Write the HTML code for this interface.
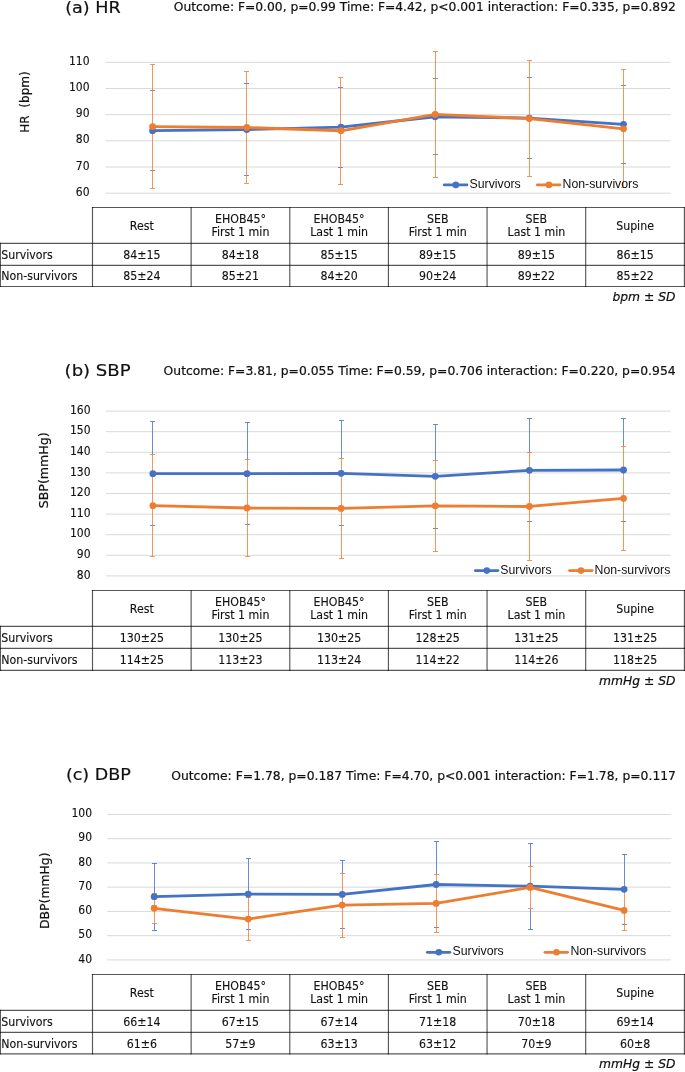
<!DOCTYPE html>
<html lang="en"><head><meta charset="utf-8"><title>Figure</title>
<style>html,body{margin:0;padding:0;background:#fff}svg{display:block}text{fill:#111}.t,.w{stroke:#111;stroke-width:.2px;stroke-linejoin:round}.t{font-family:"DejaVu Sans","Liberation Sans",sans-serif}.l{font-family:"Liberation Sans",sans-serif}.w{font-family:"DejaVu Sans","Liberation Sans",sans-serif}.k,.k2{font-family:"DejaVu Sans Condensed","DejaVu Sans","Liberation Sans",sans-serif;font-stretch:condensed;stroke:#111;stroke-width:.12px}</style></head><body>
<svg width="685" height="1072" viewBox="0 0 685 1072">
<rect width="685" height="1072" fill="#fff"/>
<g>
<text class="w" x="65.2" y="13" font-size="16.5" textLength="55.6" lengthAdjust="spacingAndGlyphs">(a) HR</text>
<text class="w" x="173.8" y="11.3" font-size="12.0" textLength="502" lengthAdjust="spacingAndGlyphs">Outcome: F=0.00, p=0.99 Time: F=4.42, p&lt;0.001 interaction: F=0.335, p=0.892</text>
<line x1="105.5" x2="670.6" y1="193.2" y2="193.2" stroke="#D9D9D9" stroke-width="1"/>
<text class="k" x="89.5" y="195.8" font-size="12.0" text-anchor="end">60</text>
<line x1="105.5" x2="670.6" y1="167.02" y2="167.02" stroke="#D9D9D9" stroke-width="1"/>
<text class="k" x="89.5" y="169.62" font-size="12.0" text-anchor="end">70</text>
<line x1="105.5" x2="670.6" y1="140.84" y2="140.84" stroke="#D9D9D9" stroke-width="1"/>
<text class="k" x="89.5" y="143.44" font-size="12.0" text-anchor="end">80</text>
<line x1="105.5" x2="670.6" y1="114.66" y2="114.66" stroke="#D9D9D9" stroke-width="1"/>
<text class="k" x="89.5" y="117.26" font-size="12.0" text-anchor="end">90</text>
<line x1="105.5" x2="670.6" y1="88.48" y2="88.48" stroke="#D9D9D9" stroke-width="1"/>
<text class="k" x="89.5" y="91.08" font-size="12.0" text-anchor="end">100</text>
<line x1="105.5" x2="670.6" y1="62.3" y2="62.3" stroke="#D9D9D9" stroke-width="1"/>
<text class="k" x="89.5" y="64.9" font-size="12.0" text-anchor="end">110</text>
<text class="w" font-size="12.0" text-anchor="middle" textLength="61.5" lengthAdjust="spacingAndGlyphs" transform="translate(28.7 102) rotate(-90)">HR  (bpm)</text>
<path d="M150 90.5h5M150 170.5h5M244 83.5h5M244 175.5h5M338 87.5h5M338 167.5h5M433 78.5h5M433 154.5h5M527 77.5h5M527 158.5h5M621 85.5h5M621 163.5h5" fill="none" stroke="#4472C4" stroke-opacity="0.8" stroke-width="1.0"/>
<path d="M152.5 64.5V188.5M150 64.5h5M150 188.5h5M246.5 71.5V183.5M244 71.5h5M244 183.5h5M340.5 77.5V184.5M338 77.5h5M338 184.5h5M435.5 51.5V177.5M433 51.5h5M433 177.5h5M529.5 60.5V176.5M527 60.5h5M527 176.5h5M623.5 69.5V187.5M621 69.5h5M621 187.5h5" fill="none" stroke="#ED7D31" stroke-opacity="0.8" stroke-width="1.0"/>
<polyline points="152.59,130.63 246.78,129.58 340.96,127.1 435.14,116.75 529.33,118.06 623.51,124.35" fill="none" stroke="#4472C4" stroke-width="2.8" stroke-linejoin="round" stroke-linecap="round"/>
<circle cx="152.59" cy="130.63" r="3.4" fill="#4472C4"/>
<circle cx="246.78" cy="129.58" r="3.4" fill="#4472C4"/>
<circle cx="340.96" cy="127.1" r="3.4" fill="#4472C4"/>
<circle cx="435.14" cy="116.75" r="3.4" fill="#4472C4"/>
<circle cx="529.33" cy="118.06" r="3.4" fill="#4472C4"/>
<circle cx="623.51" cy="124.35" r="3.4" fill="#4472C4"/>
<polyline points="152.59,126.57 246.78,127.49 340.96,130.76 435.14,114.4 529.33,118.59 623.51,128.8" fill="none" stroke="#ED7D31" stroke-width="2.8" stroke-linejoin="round" stroke-linecap="round"/>
<circle cx="152.59" cy="126.57" r="3.4" fill="#ED7D31"/>
<circle cx="246.78" cy="127.49" r="3.4" fill="#ED7D31"/>
<circle cx="340.96" cy="130.76" r="3.4" fill="#ED7D31"/>
<circle cx="435.14" cy="114.4" r="3.4" fill="#ED7D31"/>
<circle cx="529.33" cy="118.59" r="3.4" fill="#ED7D31"/>
<circle cx="623.51" cy="128.8" r="3.4" fill="#ED7D31"/>
<path d="M444.3 184.9H466.9" stroke="#4472C4" stroke-width="2.8" stroke-linecap="round"/><circle cx="455.8" cy="184.9" r="3.3" fill="#4472C4"/>
<text class="l" x="469.5" y="187.9" font-size="12.3">Survivors</text>
<path d="M537.4 184.9H560" stroke="#ED7D31" stroke-width="2.8" stroke-linecap="round"/><circle cx="548.9" cy="184.9" r="3.3" fill="#ED7D31"/>
<text class="l" x="562.5" y="187.9" font-size="12.3">Non-survivors</text>
<path d="M91.92 207.5H686M0 243.4H686M0 265.3H686M0 286.5H686" fill="none" stroke="#000" stroke-opacity="0.66" stroke-width="1.15"/>
<path d="M92.5 206.93V287.07M191.14 206.93V287.07M289.78 206.93V287.07M388.42 206.93V287.07M487.06 206.93V287.07M585.7 206.93V287.07M684.4 206.93V287.07M0.4 242.83V287.07" fill="none" stroke="#000" stroke-opacity="0.66" stroke-width="1.15"/>
<text class="k2" transform="translate(141.82 229.85) scale(1.04 1)" font-size="11.8" text-anchor="middle">Rest</text>
<text class="k2" transform="translate(240.46 222.55) scale(1.04 1)" font-size="11.8" text-anchor="middle">EHOB45°</text>
<text class="k2" transform="translate(240.46 236.35) scale(1.04 1)" font-size="11.8" text-anchor="middle">First 1 min</text>
<text class="k2" transform="translate(339.1 222.55) scale(1.04 1)" font-size="11.8" text-anchor="middle">EHOB45°</text>
<text class="k2" transform="translate(339.1 236.35) scale(1.04 1)" font-size="11.8" text-anchor="middle">Last 1 min</text>
<text class="k2" transform="translate(437.74 222.55) scale(1.04 1)" font-size="11.8" text-anchor="middle">SEB</text>
<text class="k2" transform="translate(437.74 236.35) scale(1.04 1)" font-size="11.8" text-anchor="middle">First 1 min</text>
<text class="k2" transform="translate(536.38 222.55) scale(1.04 1)" font-size="11.8" text-anchor="middle">SEB</text>
<text class="k2" transform="translate(536.38 236.35) scale(1.04 1)" font-size="11.8" text-anchor="middle">Last 1 min</text>
<text class="k2" transform="translate(635.05 229.85) scale(1.04 1)" font-size="11.8" text-anchor="middle">Supine</text>
<text class="k2" transform="translate(1.2 258.85) scale(1.04 1)" font-size="11.8">Survivors</text>
<text class="k2" transform="translate(141.82 258.85) scale(1.04 1)" font-size="11.8" text-anchor="middle">84±15</text>
<text class="k2" transform="translate(240.46 258.85) scale(1.04 1)" font-size="11.8" text-anchor="middle">84±18</text>
<text class="k2" transform="translate(339.1 258.85) scale(1.04 1)" font-size="11.8" text-anchor="middle">85±15</text>
<text class="k2" transform="translate(437.74 258.85) scale(1.04 1)" font-size="11.8" text-anchor="middle">89±15</text>
<text class="k2" transform="translate(536.38 258.85) scale(1.04 1)" font-size="11.8" text-anchor="middle">89±15</text>
<text class="k2" transform="translate(635.05 258.85) scale(1.04 1)" font-size="11.8" text-anchor="middle">86±15</text>
<text class="k2" transform="translate(1.2 280.4) scale(1.04 1)" font-size="11.8">Non-survivors</text>
<text class="k2" transform="translate(141.82 280.4) scale(1.04 1)" font-size="11.8" text-anchor="middle">85±24</text>
<text class="k2" transform="translate(240.46 280.4) scale(1.04 1)" font-size="11.8" text-anchor="middle">85±21</text>
<text class="k2" transform="translate(339.1 280.4) scale(1.04 1)" font-size="11.8" text-anchor="middle">84±20</text>
<text class="k2" transform="translate(437.74 280.4) scale(1.04 1)" font-size="11.8" text-anchor="middle">90±24</text>
<text class="k2" transform="translate(536.38 280.4) scale(1.04 1)" font-size="11.8" text-anchor="middle">89±22</text>
<text class="k2" transform="translate(635.05 280.4) scale(1.04 1)" font-size="11.8" text-anchor="middle">85±22</text>
<text class="t" x="675.5" y="301" font-size="12.3" font-style="italic" text-anchor="end">bpm ± SD</text>
</g>
<g>
<text class="w" x="64.6" y="375.8" font-size="16.5" textLength="66" lengthAdjust="spacingAndGlyphs">(b) SBP</text>
<text class="w" x="163.6" y="375.3" font-size="12.0" textLength="512" lengthAdjust="spacingAndGlyphs">Outcome: F=3.81, p=0.055 Time: F=0.59, p=0.706 interaction: F=0.220, p=0.954</text>
<line x1="105.8" x2="670.6" y1="575.9" y2="575.9" stroke="#D9D9D9" stroke-width="1"/>
<text class="k" x="90.5" y="578.5" font-size="12.0" text-anchor="end">80</text>
<line x1="105.8" x2="670.6" y1="555.3" y2="555.3" stroke="#D9D9D9" stroke-width="1"/>
<text class="k" x="90.5" y="557.9" font-size="12.0" text-anchor="end">90</text>
<line x1="105.8" x2="670.6" y1="534.7" y2="534.7" stroke="#D9D9D9" stroke-width="1"/>
<text class="k" x="90.5" y="537.3" font-size="12.0" text-anchor="end">100</text>
<line x1="105.8" x2="670.6" y1="514.1" y2="514.1" stroke="#D9D9D9" stroke-width="1"/>
<text class="k" x="90.5" y="516.7" font-size="12.0" text-anchor="end">110</text>
<line x1="105.8" x2="670.6" y1="493.5" y2="493.5" stroke="#D9D9D9" stroke-width="1"/>
<text class="k" x="90.5" y="496.1" font-size="12.0" text-anchor="end">120</text>
<line x1="105.8" x2="670.6" y1="472.9" y2="472.9" stroke="#D9D9D9" stroke-width="1"/>
<text class="k" x="90.5" y="475.5" font-size="12.0" text-anchor="end">130</text>
<line x1="105.8" x2="670.6" y1="452.3" y2="452.3" stroke="#D9D9D9" stroke-width="1"/>
<text class="k" x="90.5" y="454.9" font-size="12.0" text-anchor="end">140</text>
<line x1="105.8" x2="670.6" y1="431.7" y2="431.7" stroke="#D9D9D9" stroke-width="1"/>
<text class="k" x="90.5" y="434.3" font-size="12.0" text-anchor="end">150</text>
<line x1="105.8" x2="670.6" y1="411.1" y2="411.1" stroke="#D9D9D9" stroke-width="1"/>
<text class="k" x="90.5" y="413.7" font-size="12.0" text-anchor="end">160</text>
<text class="w" font-size="12.0" text-anchor="middle" textLength="76" lengthAdjust="spacingAndGlyphs" transform="translate(48.2 470.3) rotate(-90)">SBP(mmHg)</text>
<path d="M152.5 421.5V454.5M150 421.5h5M150 525.5h5M247.5 422.5V459.5M245 422.5h5M245 524.5h5M341.5 420.5V458.5M339 420.5h5M339 525.5h5M435.5 424.5V460.5M433 424.5h5M433 528.5h5M529.5 418.5V452.5M527 418.5h5M527 521.5h5M623.5 418.5V446.5M621 418.5h5M621 521.5h5" fill="none" stroke="#4472C4" stroke-opacity="0.8" stroke-width="1.0"/>
<path d="M152.5 454.5V556.5M150 454.5h5M150 556.5h5M247.5 459.5V556.5M245 459.5h5M245 556.5h5M341.5 458.5V558.5M339 458.5h5M339 558.5h5M435.5 460.5V551.5M433 460.5h5M433 551.5h5M529.5 452.5V560.5M527 452.5h5M527 560.5h5M623.5 446.5V550.5M621 446.5h5M621 550.5h5" fill="none" stroke="#ED7D31" stroke-opacity="0.8" stroke-width="1.0"/>
<polyline points="152.87,473.72 247,473.72 341.13,473.31 435.27,476.3 529.4,470.32 623.53,470.02" fill="none" stroke="#4472C4" stroke-width="2.8" stroke-linejoin="round" stroke-linecap="round"/>
<circle cx="152.87" cy="473.72" r="3.4" fill="#4472C4"/>
<circle cx="247" cy="473.72" r="3.4" fill="#4472C4"/>
<circle cx="341.13" cy="473.31" r="3.4" fill="#4472C4"/>
<circle cx="435.27" cy="476.3" r="3.4" fill="#4472C4"/>
<circle cx="529.4" cy="470.32" r="3.4" fill="#4472C4"/>
<circle cx="623.53" cy="470.02" r="3.4" fill="#4472C4"/>
<polyline points="152.87,505.65 247,508.02 341.13,508.44 435.27,505.86 529.4,506.48 623.53,498.44" fill="none" stroke="#ED7D31" stroke-width="2.8" stroke-linejoin="round" stroke-linecap="round"/>
<circle cx="152.87" cy="505.65" r="3.4" fill="#ED7D31"/>
<circle cx="247" cy="508.02" r="3.4" fill="#ED7D31"/>
<circle cx="341.13" cy="508.44" r="3.4" fill="#ED7D31"/>
<circle cx="435.27" cy="505.86" r="3.4" fill="#ED7D31"/>
<circle cx="529.4" cy="506.48" r="3.4" fill="#ED7D31"/>
<circle cx="623.53" cy="498.44" r="3.4" fill="#ED7D31"/>
<path d="M475.3 570.6H497.9" stroke="#4472C4" stroke-width="2.8" stroke-linecap="round"/><circle cx="486.8" cy="570.6" r="3.3" fill="#4472C4"/>
<text class="l" x="500.3" y="573.8" font-size="12.3">Survivors</text>
<path d="M569.5 570.6H592.1" stroke="#ED7D31" stroke-width="2.8" stroke-linecap="round"/><circle cx="581" cy="570.6" r="3.3" fill="#ED7D31"/>
<text class="l" x="594.5" y="573.8" font-size="12.3">Non-survivors</text>
<path d="M91.92 590.45H686M0 626.4H686M0 648.4H686M0 670.3H686" fill="none" stroke="#000" stroke-opacity="0.66" stroke-width="1.15"/>
<path d="M92.5 589.88V670.88M191.14 589.88V670.88M289.78 589.88V670.88M388.42 589.88V670.88M487.06 589.88V670.88M585.7 589.88V670.88M684.4 589.88V670.88M0.4 625.82V670.88" fill="none" stroke="#000" stroke-opacity="0.66" stroke-width="1.15"/>
<text class="k2" transform="translate(141.82 612.82) scale(1.04 1)" font-size="11.8" text-anchor="middle">Rest</text>
<text class="k2" transform="translate(240.46 605.52) scale(1.04 1)" font-size="11.8" text-anchor="middle">EHOB45°</text>
<text class="k2" transform="translate(240.46 619.32) scale(1.04 1)" font-size="11.8" text-anchor="middle">First 1 min</text>
<text class="k2" transform="translate(339.1 605.52) scale(1.04 1)" font-size="11.8" text-anchor="middle">EHOB45°</text>
<text class="k2" transform="translate(339.1 619.32) scale(1.04 1)" font-size="11.8" text-anchor="middle">Last 1 min</text>
<text class="k2" transform="translate(437.74 605.52) scale(1.04 1)" font-size="11.8" text-anchor="middle">SEB</text>
<text class="k2" transform="translate(437.74 619.32) scale(1.04 1)" font-size="11.8" text-anchor="middle">First 1 min</text>
<text class="k2" transform="translate(536.38 605.52) scale(1.04 1)" font-size="11.8" text-anchor="middle">SEB</text>
<text class="k2" transform="translate(536.38 619.32) scale(1.04 1)" font-size="11.8" text-anchor="middle">Last 1 min</text>
<text class="k2" transform="translate(635.05 612.82) scale(1.04 1)" font-size="11.8" text-anchor="middle">Supine</text>
<text class="k2" transform="translate(1.2 641.9) scale(1.04 1)" font-size="11.8">Survivors</text>
<text class="k2" transform="translate(141.82 641.9) scale(1.04 1)" font-size="11.8" text-anchor="middle">130±25</text>
<text class="k2" transform="translate(240.46 641.9) scale(1.04 1)" font-size="11.8" text-anchor="middle">130±25</text>
<text class="k2" transform="translate(339.1 641.9) scale(1.04 1)" font-size="11.8" text-anchor="middle">130±25</text>
<text class="k2" transform="translate(437.74 641.9) scale(1.04 1)" font-size="11.8" text-anchor="middle">128±25</text>
<text class="k2" transform="translate(536.38 641.9) scale(1.04 1)" font-size="11.8" text-anchor="middle">131±25</text>
<text class="k2" transform="translate(635.05 641.9) scale(1.04 1)" font-size="11.8" text-anchor="middle">131±25</text>
<text class="k2" transform="translate(1.2 663.85) scale(1.04 1)" font-size="11.8">Non-survivors</text>
<text class="k2" transform="translate(141.82 663.85) scale(1.04 1)" font-size="11.8" text-anchor="middle">114±25</text>
<text class="k2" transform="translate(240.46 663.85) scale(1.04 1)" font-size="11.8" text-anchor="middle">113±23</text>
<text class="k2" transform="translate(339.1 663.85) scale(1.04 1)" font-size="11.8" text-anchor="middle">113±24</text>
<text class="k2" transform="translate(437.74 663.85) scale(1.04 1)" font-size="11.8" text-anchor="middle">114±22</text>
<text class="k2" transform="translate(536.38 663.85) scale(1.04 1)" font-size="11.8" text-anchor="middle">114±26</text>
<text class="k2" transform="translate(635.05 663.85) scale(1.04 1)" font-size="11.8" text-anchor="middle">118±25</text>
<text class="t" x="675.5" y="684.7" font-size="12.3" font-style="italic" text-anchor="end">mmHg ± SD</text>
</g>
<g>
<text class="w" x="65.9" y="780" font-size="16.5" textLength="65" lengthAdjust="spacingAndGlyphs">(c) DBP</text>
<text class="w" x="171.2" y="779.6" font-size="12.0" textLength="504.8" lengthAdjust="spacingAndGlyphs">Outcome: F=1.78, p=0.187 Time: F=4.70, p&lt;0.001 interaction: F=1.78, p=0.117</text>
<line x1="107.2" x2="671.1" y1="959.9" y2="959.9" stroke="#D9D9D9" stroke-width="1"/>
<text class="k" x="92" y="962.5" font-size="12.0" text-anchor="end">40</text>
<line x1="107.2" x2="671.1" y1="935.66" y2="935.66" stroke="#D9D9D9" stroke-width="1"/>
<text class="k" x="92" y="938.26" font-size="12.0" text-anchor="end">50</text>
<line x1="107.2" x2="671.1" y1="911.42" y2="911.42" stroke="#D9D9D9" stroke-width="1"/>
<text class="k" x="92" y="914.02" font-size="12.0" text-anchor="end">60</text>
<line x1="107.2" x2="671.1" y1="887.17" y2="887.17" stroke="#D9D9D9" stroke-width="1"/>
<text class="k" x="92" y="889.77" font-size="12.0" text-anchor="end">70</text>
<line x1="107.2" x2="671.1" y1="862.93" y2="862.93" stroke="#D9D9D9" stroke-width="1"/>
<text class="k" x="92" y="865.53" font-size="12.0" text-anchor="end">80</text>
<line x1="107.2" x2="671.1" y1="838.69" y2="838.69" stroke="#D9D9D9" stroke-width="1"/>
<text class="k" x="92" y="841.29" font-size="12.0" text-anchor="end">90</text>
<line x1="107.2" x2="671.1" y1="814.45" y2="814.45" stroke="#D9D9D9" stroke-width="1"/>
<text class="k" x="92" y="817.05" font-size="12.0" text-anchor="end">100</text>
<text class="w" font-size="12.0" text-anchor="middle" textLength="76.5" lengthAdjust="spacingAndGlyphs" transform="translate(49.2 890.7) rotate(-90)">DBP(mmHg)</text>
<path d="M154.5 863.5V893.5M154.5 923.5V930.5M152 863.5h5M152 930.5h5M248.5 858.5V897.5M246 858.5h5M246 929.5h5M342.5 860.5V873.5M340 860.5h5M340 928.5h5M436.5 841.5V874.5M434 841.5h5M434 927.5h5M530.5 843.5V866.5M530.5 908.5V929.5M528 843.5h5M528 929.5h5M624.5 854.5V890.5M622 854.5h5M622 924.5h5" fill="none" stroke="#4472C4" stroke-opacity="0.8" stroke-width="1.0"/>
<path d="M154.5 893.5V923.5M152 893.5h5M152 923.5h5M248.5 897.5V940.5M246 897.5h5M246 940.5h5M342.5 873.5V937.5M340 873.5h5M340 937.5h5M436.5 874.5V932.5M434 874.5h5M434 932.5h5M530.5 866.5V908.5M528 866.5h5M528 908.5h5M624.5 890.5V930.5M622 890.5h5M622 930.5h5" fill="none" stroke="#ED7D31" stroke-opacity="0.8" stroke-width="1.0"/>
<polyline points="154.19,896.63 248.18,894.08 342.16,894.45 436.14,884.51 530.12,886.21 624.11,889.36" fill="none" stroke="#4472C4" stroke-width="2.8" stroke-linejoin="round" stroke-linecap="round"/>
<circle cx="154.19" cy="896.63" r="3.4" fill="#4472C4"/>
<circle cx="248.18" cy="894.08" r="3.4" fill="#4472C4"/>
<circle cx="342.16" cy="894.45" r="3.4" fill="#4472C4"/>
<circle cx="436.14" cy="884.51" r="3.4" fill="#4472C4"/>
<circle cx="530.12" cy="886.21" r="3.4" fill="#4472C4"/>
<circle cx="624.11" cy="889.36" r="3.4" fill="#4472C4"/>
<polyline points="154.19,908.27 248.18,919.05 342.16,905.11 436.14,903.42 530.12,887.42 624.11,910.45" fill="none" stroke="#ED7D31" stroke-width="2.8" stroke-linejoin="round" stroke-linecap="round"/>
<circle cx="154.19" cy="908.27" r="3.4" fill="#ED7D31"/>
<circle cx="248.18" cy="919.05" r="3.4" fill="#ED7D31"/>
<circle cx="342.16" cy="905.11" r="3.4" fill="#ED7D31"/>
<circle cx="436.14" cy="903.42" r="3.4" fill="#ED7D31"/>
<circle cx="530.12" cy="887.42" r="3.4" fill="#ED7D31"/>
<circle cx="624.11" cy="910.45" r="3.4" fill="#ED7D31"/>
<path d="M427.3 952.3H449.9" stroke="#4472C4" stroke-width="2.8" stroke-linecap="round"/><circle cx="438.8" cy="952.3" r="3.3" fill="#4472C4"/>
<text class="l" x="452.5" y="954.5" font-size="12.3">Survivors</text>
<path d="M545 952.3H567.6" stroke="#ED7D31" stroke-width="2.8" stroke-linecap="round"/><circle cx="556.5" cy="952.3" r="3.3" fill="#ED7D31"/>
<text class="l" x="570.4" y="954.5" font-size="12.3">Non-survivors</text>
<path d="M91.92 974.45H686M0 1010.4H686M0 1032.4H686M0 1053.9H686" fill="none" stroke="#000" stroke-opacity="0.66" stroke-width="1.15"/>
<path d="M92.5 973.88V1054.48M191.14 973.88V1054.48M289.78 973.88V1054.48M388.42 973.88V1054.48M487.06 973.88V1054.48M585.7 973.88V1054.48M684.4 973.88V1054.48M0.4 1009.82V1054.48" fill="none" stroke="#000" stroke-opacity="0.66" stroke-width="1.15"/>
<text class="k2" transform="translate(141.82 996.82) scale(1.04 1)" font-size="11.8" text-anchor="middle">Rest</text>
<text class="k2" transform="translate(240.46 989.52) scale(1.04 1)" font-size="11.8" text-anchor="middle">EHOB45°</text>
<text class="k2" transform="translate(240.46 1003.32) scale(1.04 1)" font-size="11.8" text-anchor="middle">First 1 min</text>
<text class="k2" transform="translate(339.1 989.52) scale(1.04 1)" font-size="11.8" text-anchor="middle">EHOB45°</text>
<text class="k2" transform="translate(339.1 1003.32) scale(1.04 1)" font-size="11.8" text-anchor="middle">Last 1 min</text>
<text class="k2" transform="translate(437.74 989.52) scale(1.04 1)" font-size="11.8" text-anchor="middle">SEB</text>
<text class="k2" transform="translate(437.74 1003.32) scale(1.04 1)" font-size="11.8" text-anchor="middle">First 1 min</text>
<text class="k2" transform="translate(536.38 989.52) scale(1.04 1)" font-size="11.8" text-anchor="middle">SEB</text>
<text class="k2" transform="translate(536.38 1003.32) scale(1.04 1)" font-size="11.8" text-anchor="middle">Last 1 min</text>
<text class="k2" transform="translate(635.05 996.82) scale(1.04 1)" font-size="11.8" text-anchor="middle">Supine</text>
<text class="k2" transform="translate(1.2 1025.9) scale(1.04 1)" font-size="11.8">Survivors</text>
<text class="k2" transform="translate(141.82 1025.9) scale(1.04 1)" font-size="11.8" text-anchor="middle">66±14</text>
<text class="k2" transform="translate(240.46 1025.9) scale(1.04 1)" font-size="11.8" text-anchor="middle">67±15</text>
<text class="k2" transform="translate(339.1 1025.9) scale(1.04 1)" font-size="11.8" text-anchor="middle">67±14</text>
<text class="k2" transform="translate(437.74 1025.9) scale(1.04 1)" font-size="11.8" text-anchor="middle">71±18</text>
<text class="k2" transform="translate(536.38 1025.9) scale(1.04 1)" font-size="11.8" text-anchor="middle">70±18</text>
<text class="k2" transform="translate(635.05 1025.9) scale(1.04 1)" font-size="11.8" text-anchor="middle">69±14</text>
<text class="k2" transform="translate(1.2 1047.65) scale(1.04 1)" font-size="11.8">Non-survivors</text>
<text class="k2" transform="translate(141.82 1047.65) scale(1.04 1)" font-size="11.8" text-anchor="middle">61±6</text>
<text class="k2" transform="translate(240.46 1047.65) scale(1.04 1)" font-size="11.8" text-anchor="middle">57±9</text>
<text class="k2" transform="translate(339.1 1047.65) scale(1.04 1)" font-size="11.8" text-anchor="middle">63±13</text>
<text class="k2" transform="translate(437.74 1047.65) scale(1.04 1)" font-size="11.8" text-anchor="middle">63±12</text>
<text class="k2" transform="translate(536.38 1047.65) scale(1.04 1)" font-size="11.8" text-anchor="middle">70±9</text>
<text class="k2" transform="translate(635.05 1047.65) scale(1.04 1)" font-size="11.8" text-anchor="middle">60±8</text>
<text class="t" x="675.5" y="1068.3" font-size="12.3" font-style="italic" text-anchor="end">mmHg ± SD</text>
</g>
</svg></body></html>
